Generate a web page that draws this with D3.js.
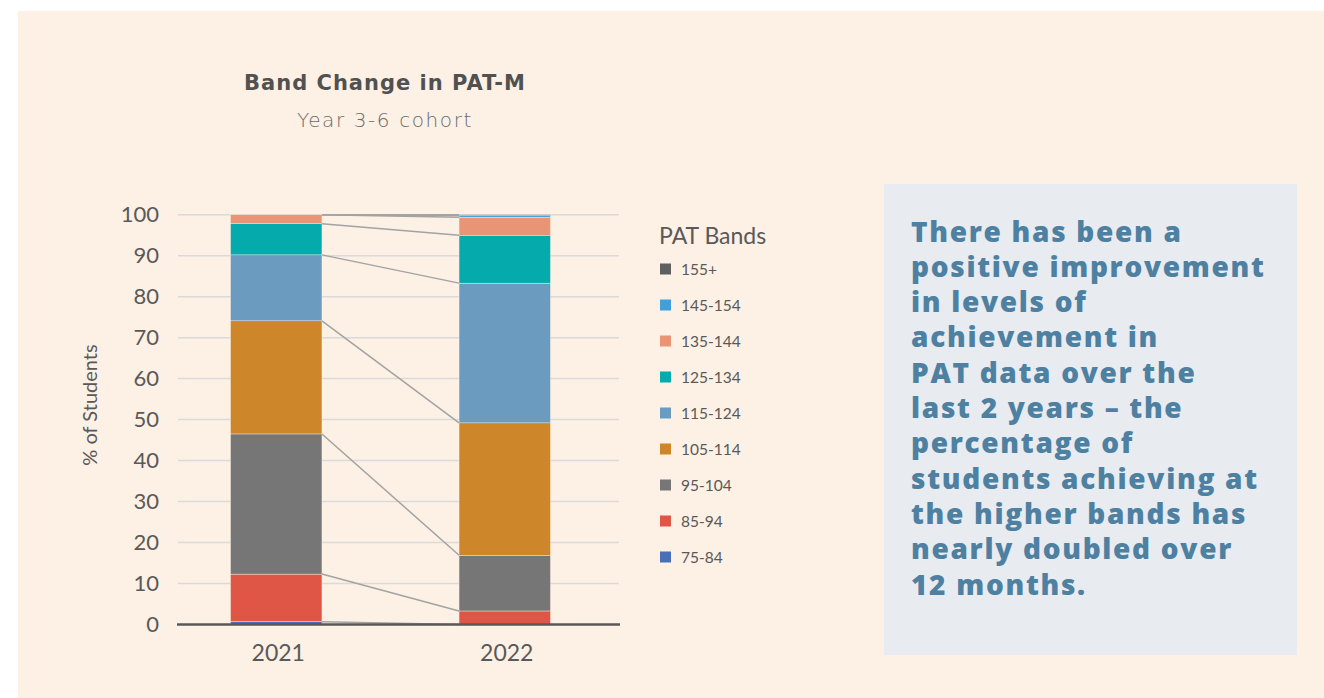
<!DOCTYPE html>
<html>
<head>
<meta charset="utf-8">
<script src="https://cdn.jsdelivr.net/npm/d3@7"></script>
<style>
  body { margin: 0; background: #ffffff; }
  svg { display: block; }
</style>
</head>
<body>
<script>
// band change chart - stacked bars w/ series lines

var years = ['2021', '2022'];
var bands = ['75-84', '85-94', '95-104', '105-114', '115-124', '125-134', '135-144', '145-154', '155+'];
var bandColors = ['#4a6fb8', '#df5646', '#767676', '#cd8629', '#6b9bbf', '#05aaad', '#e89475', '#429fd9', '#5f5f5f'];
var pct2021 = [0.7, 11.6, 34.2, 27.6, 16.1, 7.6, 2.2, 0, 0];
var pct2022 = [0, 3.3, 13.6, 32.3, 34.1, 11.7, 4.4, 0.4, 0.2];
var yTicks = [0, 10, 20, 30, 40, 50, 60, 70, 80, 90, 100];

var textLines = ['There has been a', 'positive improvement', 'in levels of', 'achievement in',
  'PAT data over the', 'last 2 years \u2013 the', 'percentage of', 'students achieving at',
  'the higher bands has', 'nearly doubled over', '12 months.'];

var W = 1324, H = 698;
var svg = d3.select('body').append('svg').attr('width', W).attr('height', H);

svg.append('rect').attr('x', 18).attr('y', 11).attr('width', W - 18).attr('height', H - 11).attr('fill', '#fdf0e4');

var x = d3.scaleBand().domain(years).range([162, 619]).padding(0);
var y = d3.scaleLinear().domain([0, 100]).range([624.5, 214.7]);
var barW = x.bandwidth() * 0.4;

// gridlines
svg.append('g').selectAll('line').data(yTicks.slice(1)).join('line')
  .attr('x1', 178).attr('x2', 619)
  .attr('y1', function(d){ return y(d); }).attr('y2', function(d){ return y(d); })
  .attr('stroke', '#dadada').attr('stroke-width', 1.5);

// y tick labels
svg.append('g').selectAll('text').data(yTicks).join('text')
  .attr('x', 159).attr('y', function(d){ return y(d) + 7.5; })
  .attr('text-anchor', 'end')
  .style('font-family', 'Lato, sans-serif').style('font-size', '22px').attr('fill', '#595959')
  .text(function(d){ return d; });

svg.append('text')
  .attr('transform', 'translate(97,405) rotate(-90)')
  .attr('text-anchor', 'middle')
  .style('font-family', 'Lato, sans-serif').style('font-size', '20px').attr('fill', '#595959')
  .text('% of Students');

// stack it
var rows = years.map(function(yr, i){
  var src = i === 0 ? pct2021 : pct2022;
  var row = { year: yr };
  bands.forEach(function(b, j){ row[b] = src[j]; });
  return row;
});
var stacked = d3.stack().keys(bands)(rows);

var barG = svg.append('g');
stacked.forEach(function(layer, j){
  barG.selectAll(null).data(layer).join('rect')
    .attr('x', function(d){ return x(d.data.year) + (x.bandwidth() - barW) / 2; })
    .attr('width', barW)
    .attr('y', function(d){ return y(d[1]); })
    .attr('height', function(d){ return Math.max(0, y(d[0]) - y(d[1])); })
    .attr('fill', bandColors[j])
    .attr('stroke', '#fdf0e4').attr('stroke-width', 0.4);
});

// series lines between segment tops
var serG = svg.append('g');
stacked.forEach(function(layer){
  var a = layer[0], b = layer[1];
  serG.append('line')
    .attr('x1', x(years[0]) + (x.bandwidth() + barW) / 2)
    .attr('x2', x(years[1]) + (x.bandwidth() - barW) / 2)
    .attr('y1', y(a[1])).attr('y2', y(b[1]))
    .attr('stroke', '#a3a3a3').attr('stroke-width', 1.5);
});

// baseline axis
svg.append('line').attr('x1', 177).attr('x2', 620).attr('y1', y(0)).attr('y2', y(0))
  .attr('stroke', '#595959').attr('stroke-width', 2.5);

// x labels
svg.append('g').selectAll('text').data(years).join('text')
  .attr('x', function(d){ return x(d) + x.bandwidth() / 2 + 2; })
  .attr('y', 661)
  .attr('text-anchor', 'middle')
  .style('font-family', 'Lato, sans-serif').style('font-size', '23px').attr('fill', '#595959')
  .text(function(d){ return d; });

// titles
svg.append('text').attr('x', 385).attr('y', 90).attr('text-anchor', 'middle')
  .style('font-family', '"DejaVu Sans", sans-serif').style('font-size', '21px').style('font-weight', 700)
  .style('letter-spacing', '1px')
  .attr('fill', '#515151').text('Band Change in PAT-M');
svg.append('text').attr('x', 385).attr('y', 127).attr('text-anchor', 'middle')
  .style('font-family', '"DejaVu Sans", sans-serif').style('font-size', '20px').style('font-weight', 200)
  .style('letter-spacing', '1.6px')
  .attr('fill', '#6b6b6b').text('Year 3-6 cohort');

// legend
svg.append('text').attr('x', 659).attr('y', 244)
  .style('font-family', 'Lato, sans-serif').style('font-size', '23px').attr('fill', '#595959')
  .text('PAT Bands');
var legItems = bands.slice().reverse();
var legColors = bandColors.slice().reverse();
var leg = svg.append('g').selectAll('g').data(legItems).join('g')
  .attr('transform', function(d, i){ return 'translate(660,' + (269 + i * 36) + ')'; });
leg.append('rect').attr('x', 0).attr('y', -5.5).attr('width', 11).attr('height', 11)
  .attr('fill', function(d, i){ return legColors[i]; });
leg.append('text').attr('x', 21).attr('y', 5.5)
  .style('font-family', 'Lato, sans-serif').style('font-size', '15.5px').attr('fill', '#595959')
  .text(function(d){ return d; });

// callout box
svg.append('rect').attr('x', 884).attr('y', 184).attr('width', 413).attr('height', 471).attr('fill', '#e8ebf0');
svg.append('g').selectAll('text').data(textLines).join('text')
  .attr('x', 911).attr('y', function(d, i){ return 241.5 + i * 35.3; })
  .style('font-family', '"Open Sans", sans-serif').style('font-size', '28px').style('font-weight', 800)
  .style('letter-spacing', '1.7px')
  .attr('fill', '#4e80a1')
  .text(function(d){ return d; });
</script>
</body>
</html>
